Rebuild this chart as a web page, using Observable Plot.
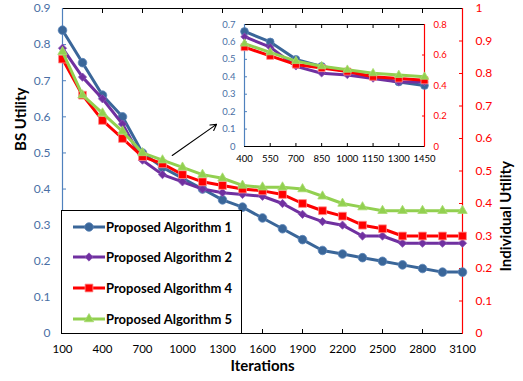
<!DOCTYPE html>
<html>
<head>
<meta charset="utf-8">
<script src="https://cdn.jsdelivr.net/npm/d3@7"></script>
<script src="https://cdn.jsdelivr.net/npm/@observablehq/plot@0.6"></script>
<style>
  html, body { margin: 0; padding: 0; background: #fff; }
  #wrap { position: relative; width: 523px; height: 381px; font-family: Lato, "Liberation Sans", sans-serif; }
  #wrap > * { position: absolute; }
  .leg { background: #fff; border: 1.5px solid #000; box-sizing: border-box; }
  .leg span { position: absolute; font-weight: bold; font-size: 13px; white-space: nowrap; color: #000; }
</style>
</head>
<body>
<div id="wrap"></div>
<script>
// ---------- data ----------
const iterations = [100, 250, 400, 550, 700, 850, 1000, 1150, 1300, 1450, 1600, 1750, 1900, 2050, 2200, 2350, 2500, 2650, 2800, 2950, 3100];
const seriesNames = ["Proposed Algorithm 1", "Proposed Algorithm 2", "Proposed Algorithm 4", "Proposed Algorithm 5"];
const alg1 = [0.84, 0.75, 0.66, 0.60, 0.50, 0.46, 0.43, 0.40, 0.37, 0.35, 0.32, 0.29, 0.26, 0.23, 0.22, 0.21, 0.20, 0.19, 0.18, 0.17, 0.17];
const alg2 = [0.79, 0.71, 0.65, 0.58, 0.48, 0.44, 0.42, 0.40, 0.39, 0.385, 0.38, 0.36, 0.33, 0.31, 0.30, 0.27, 0.27, 0.25, 0.25, 0.25, 0.25];
const alg4 = [0.76, 0.66, 0.59, 0.54, 0.49, 0.47, 0.44, 0.42, 0.41, 0.40, 0.395, 0.385, 0.36, 0.34, 0.325, 0.30, 0.29, 0.27, 0.27, 0.27, 0.27];
const alg5 = [0.78, 0.66, 0.61, 0.56, 0.50, 0.48, 0.46, 0.44, 0.43, 0.41, 0.405, 0.405, 0.40, 0.38, 0.36, 0.35, 0.34, 0.34, 0.34, 0.34, 0.34];

const insetIterations = [400, 550, 700, 850, 1000, 1150, 1300, 1450];
const inset1 = [0.66, 0.60, 0.50, 0.46, 0.43, 0.40, 0.37, 0.35];
const inset2 = [0.63, 0.57, 0.46, 0.42, 0.41, 0.39, 0.37, 0.37];
const inset4 = [0.57, 0.52, 0.47, 0.45, 0.43, 0.40, 0.39, 0.38];
const inset5 = [0.59, 0.54, 0.49, 0.46, 0.44, 0.42, 0.41, 0.40];

const xTicks = [100, 400, 700, 1000, 1300, 1600, 1900, 2200, 2500, 2800, 3100];
const leftTicks = [0, 0.1, 0.2, 0.3, 0.4, 0.5, 0.6, 0.7, 0.8, 0.9];
const rightTicks = [0, 0.1, 0.2, 0.3, 0.4, 0.5, 0.6, 0.7, 0.8, 0.9, 1];
const insetXTicks = [400, 550, 700, 850, 1000, 1150, 1300, 1450];
const insetLeftTicks = [0, 0.1, 0.2, 0.3, 0.4, 0.5, 0.6, 0.7];
const insetRightTicks = [0, 0.2, 0.4, 0.6, 0.8];

const arrowFrom = {x: 923, y: 0.493};
const arrowTo = {x: 1255, y: 0.579};

// ---------- styles ----------
const colors = ["#3a6699", "#7030a0", "#ff0000", "#92d050"];
const edge = ["#5b84b8", "#8a55b5", "#ff8c8c", "#a8dc70"];
const diamond = {draw(ctx, size) { const s = Math.sqrt(size / 2); ctx.moveTo(0, -s); ctx.lineTo(s, 0); ctx.lineTo(0, s); ctx.lineTo(-s, 0); ctx.closePath(); }};
const symbols = [d3.symbolCircle, diamond, d3.symbolSquare, d3.symbolTriangle];
const radii = [4.3, 3.3, 4.4, 3.5];
const axisBlue = "#4f81bd";
const labelBlue = "#4a6fa5";
const fmt = v => { const r = Math.round(v * 10) / 10; return r === 0 ? "0" : r === 1 ? "1" : r.toFixed(1); };

const mainVals = [alg1, alg2, alg4, alg5];
const insetVals = [inset1, inset2, inset4, inset5];
const mainRows = seriesNames.map((s, k) => iterations.map((it, i) => ({series: s, x: it, y: mainVals[k][i]})));
const insetRows = seriesNames.map((s, k) => insetIterations.map((it, i) => ({series: s, x: it, y: insetVals[k][i]})));

const RMAX = 0.9; // main right axis 1 == left 0.9
const IRMAX = 0.7 / 0.8; // inset right 0.8 == left 0.7

const wrap = document.getElementById("wrap");

// ---------- main chart ----------
const main = Plot.plot({
  width: 523, height: 381,
  marginLeft: 62, marginRight: 61, marginTop: 8, marginBottom: 48,
  x: {domain: [100, 3100], label: null},
  y: {domain: [0, 0.9], label: null},
  style: {fontFamily: "Lato, 'Liberation Sans', sans-serif", background: "transparent", overflow: "visible"},
  marks: [
    Plot.axisY(leftTicks, {anchor: "left", tickSize: -4, tickPadding: 16, tickFormat: fmt, stroke: axisBlue, fill: labelBlue, fontSize: 12, label: null}),
    Plot.axisY(rightTicks.map(v => v * RMAX), {anchor: "right", tickSize: -4, tickPadding: 17, tickFormat: d => fmt(d / RMAX), stroke: "#ff0000", fill: "#ff0000", fontSize: 12, label: null}),
    Plot.axisX(xTicks, {anchor: "bottom", tickSize: -4, tickPadding: 15, tickFormat: d => String(d), stroke: "#000", fill: "#000", fontSize: 11.5, label: null}),
    Plot.axisX(xTicks, {anchor: "top", tickSize: -4, tickFormat: () => "", stroke: "#000", label: null}),
    Plot.ruleY([0.9], {stroke: "#000", strokeWidth: 1.2}),
    Plot.ruleY([0], {stroke: "#000", strokeWidth: 1.2}),
    Plot.ruleX([100], {stroke: axisBlue, strokeWidth: 1.2}),
    Plot.ruleX([3100], {stroke: "#ff0000", strokeWidth: 1.2}),
    ...mainRows.flatMap((rows, k) => [
      Plot.line(rows, {x: "x", y: "y", stroke: colors[k], strokeWidth: 3}),
      Plot.dot(rows, {x: "x", y: "y", symbol: symbols[k], r: radii[k], fill: colors[k], stroke: edge[k], strokeWidth: 0.8})
    ]),
    Plot.arrow([{a: arrowFrom, b: arrowTo}], {x1: d => d.a.x, y1: d => d.a.y, x2: d => d.b.x, y2: d => d.b.y, stroke: "#000", strokeWidth: 1.1, headLength: 9, bend: 0}),
    Plot.text(["BS Utility"], {frameAnchor: "left", dx: -41, dy: -20, rotate: -90, fontSize: 15, fontWeight: "bold", fill: "#000"}),
    Plot.text(["Individual Utility"], {frameAnchor: "right", dx: 44, dy: -10, rotate: -90, fontSize: 15, fontWeight: "bold", fill: "#000"}),
    Plot.text(["Iterations"], {frameAnchor: "bottom", dy: 37.5, fontSize: 15, fontWeight: "bold", fill: "#000"})
  ]
});
main.style.left = "0px"; main.style.top = "0px";
wrap.appendChild(main);

// ---------- inset ----------
const inset = Plot.plot({
  width: 241, height: 146,
  marginLeft: 30, marginRight: 31, marginTop: 4, marginBottom: 20,
  x: {domain: [400, 1450], label: null},
  y: {domain: [0, 0.7], label: null},
  style: {fontFamily: "Lato, 'Liberation Sans', sans-serif", background: "transparent", overflow: "visible"},
  marks: [
    Plot.frame({fill: "#fff", stroke: null}),
    Plot.axisY(insetLeftTicks, {anchor: "left", tickSize: -3, tickPadding: 12, tickFormat: fmt, stroke: axisBlue, fill: labelBlue, fontSize: 9.5, label: null}),
    Plot.axisY(insetRightTicks.map(v => v * IRMAX), {anchor: "right", tickSize: -3, tickPadding: 12, tickFormat: d => fmt(d / IRMAX), stroke: "#ff0000", fill: "#ff0000", fontSize: 9.5, label: null}),
    Plot.axisX(insetXTicks, {anchor: "bottom", tickSize: -3, tickPadding: 12, tickFormat: d => String(d), stroke: "#000", fill: "#000", fontSize: 9.5, label: null}),
    Plot.axisX(insetXTicks, {anchor: "top", tickSize: -3, tickFormat: () => "", stroke: "#000", label: null}),
    Plot.ruleY([0.7], {stroke: "#000", strokeWidth: 1.2}),
    Plot.ruleY([0], {stroke: "#000", strokeWidth: 1.2}),
    Plot.ruleX([400], {stroke: axisBlue, strokeWidth: 1.2}),
    Plot.ruleX([1450], {stroke: "#ff0000", strokeWidth: 1.2}),
    ...insetRows.flatMap((rows, k) => [
      Plot.line(rows, {x: "x", y: "y", stroke: colors[k], strokeWidth: 3}),
      Plot.dot(rows, {x: "x", y: "y", symbol: symbols[k], r: radii[k] * 0.9, fill: colors[k], stroke: edge[k], strokeWidth: 0.8})
    ])
  ]
});
inset.style.left = "214px"; inset.style.top = "20px";
wrap.appendChild(inset);

// ---------- legend ----------
const leg = document.createElement("div");
leg.className = "leg";
Object.assign(leg.style, {left: "61px", top: "209.5px", width: "181px", height: "124.5px"});
seriesNames.forEach((name, k) => {
  const cy = 16 + k * 30.9;
  const sw = d3.create("svg").attr("width", 36).attr("height", 14)
    .style("position", "absolute").style("left", "10px").style("top", (cy - 7) + "px");
  sw.append("line").attr("x1", 1).attr("x2", 33).attr("y1", 7).attr("y2", 7).attr("stroke", colors[k]).attr("stroke-width", 3);
  sw.append("path").attr("transform", "translate(17,7)")
    .attr("d", d3.symbol(symbols[k], Math.PI * radii[k] * radii[k])())
    .attr("fill", colors[k]).attr("stroke", edge[k]).attr("stroke-width", 0.8);
  leg.appendChild(sw.node());
  const t = document.createElement("span");
  t.textContent = name;
  t.style.left = "44px";
  t.style.top = (cy - 9) + "px";
  t.style.lineHeight = "18px";
  leg.appendChild(t);
});
wrap.appendChild(leg);
</script>
</body>
</html>
